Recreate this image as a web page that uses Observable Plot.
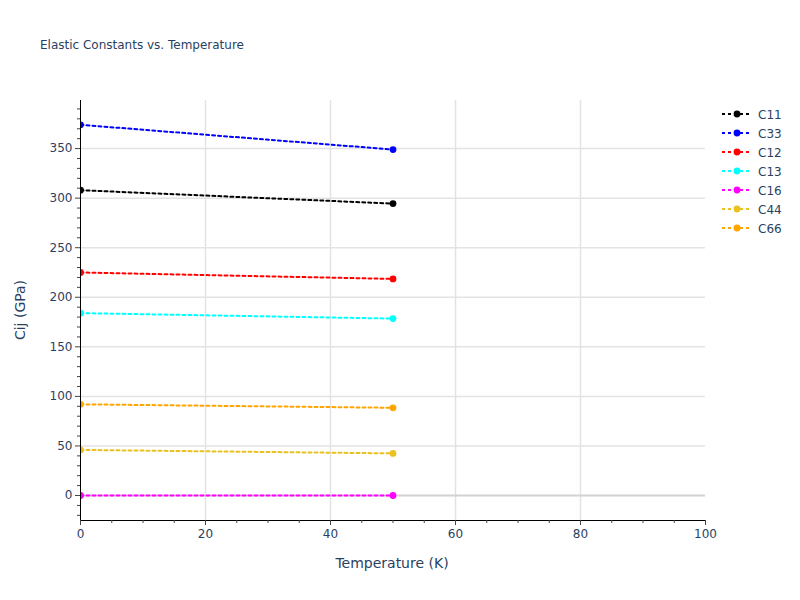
<!DOCTYPE html>
<html>
<head>
<meta charset="utf-8">
<script src="https://cdn.jsdelivr.net/npm/d3@7"></script>
<script src="https://cdn.jsdelivr.net/npm/@observablehq/plot@0.6"></script>
<style>
  body { margin: 0; background: #fff; }
  #wrap { position: relative; width: 800px; height: 600px; font-family: Verdana, "DejaVu Sans", sans-serif; color: #2a3f5f; }
  #wrap svg.plot { position: absolute; left: 0; top: 0; }
  .ov { position: absolute; white-space: nowrap; line-height: 1; }
</style>
</head>
<body>
<div id="wrap"></div>
<script>
// ---- data ----
const temps = [0, 50];
const series = ["C11", "C33", "C12", "C13", "C16", "C44", "C66"];
const colors = ["#000000", "#0000ff", "#ff0000", "#00ffff", "#ff00ff", "#ebc11f", "#ffa500"];
const C11 = [308, 294.5];
const C33 = [374, 349];
const C12 = [225, 218.5];
const C13 = [184, 178.5];
const C16 = [0, 0];
const C44 = [46, 42.5];
const C66 = [92, 88.5];
const xTicks = [0, 20, 40, 60, 80, 100];
const yTicks = [0, 50, 100, 150, 200, 250, 300, 350];
const xDomain = [0, 100];
const yDomain = [-25.2, 398.5];
const titleText = "Elastic Constants vs. Temperature";
const xLabel = "Temperature (K)";
const yLabel = "Cij (GPa)";

const values = {C11, C33, C12, C13, C16, C44, C66};
const rows = [];
series.forEach(s => values[s].forEach((v, i) => rows.push({series: s, T: temps[i], v})));

const xMinor = d3.range(0, 101, 5).filter(d => !xTicks.includes(d));
const yMinor = d3.range(-20, 391, 10).filter(d => !yTicks.includes(d));
const FONT = "Verdana, 'DejaVu Sans', sans-serif";

const chart = Plot.plot({
  width: 800,
  height: 600,
  marginLeft: 80,
  marginRight: 95,
  marginTop: 100,
  marginBottom: 80,
  style: {fontFamily: FONT, fontSize: "12px", background: "transparent"},
  x: {domain: xDomain},
  y: {domain: yDomain},
  color: {domain: series, range: colors},
  marks: [
    Plot.gridX(xTicks.filter(d => d > 0 && d < 100), {stroke: "#e3e3e3", strokeOpacity: 1, strokeWidth: 1.5}),
    Plot.gridY(yTicks.filter(d => d !== 0), {stroke: "#e3e3e3", strokeOpacity: 1, strokeWidth: 1.5}),
    Plot.ruleY([0], {stroke: "#d2d2d2", strokeWidth: 2}),
    Plot.line(rows, {x: "T", y: "v", z: "series", stroke: "series", strokeWidth: 2, strokeDasharray: "3,3", clip: true}),
    Plot.dot(rows, {x: "T", y: "v", fill: "series", r: 3.4, clip: true}),
    Plot.ruleX([xDomain[0]], {stroke: "#000", strokeWidth: 1}),
    Plot.ruleY([yDomain[0]], {stroke: "#000", strokeWidth: 1}),
    Plot.axisX({ticks: xTicks, tickSize: 5, tickPadding: 4, stroke: "#444", fill: "#2a3f5f", label: null, fontSize: 12}),
    Plot.axisX({ticks: xMinor, tickSize: 3, text: null, stroke: "#444", label: null}),
    Plot.axisY({ticks: yTicks, tickSize: 5, tickPadding: 3, stroke: "#444", fill: "#2a3f5f", label: null, fontSize: 12}),
    Plot.axisY({ticks: yMinor, tickSize: 3, text: null, stroke: "#444", label: null})
  ]
});
chart.classList.add("plot");
const wrap = document.getElementById("wrap");
wrap.appendChild(chart);

function ov(text, css) {
  const d = document.createElement("div");
  d.className = "ov";
  d.textContent = text;
  Object.assign(d.style, css);
  wrap.appendChild(d);
  return d;
}
ov(titleText, {left: "40px", top: "39px", fontSize: "12px"});
ov(xLabel, {left: "392px", top: "556px", fontSize: "14px", transform: "translateX(-50%)"});
ov(yLabel, {left: "20px", top: "310px", fontSize: "14px", transform: "translate(-50%, -50%) rotate(-90deg)"});

// legend
const ns = "http://www.w3.org/2000/svg";
const leg = document.createElementNS(ns, "svg");
leg.setAttribute("width", 100);
leg.setAttribute("height", 150);
leg.style.position = "absolute";
leg.style.left = "700px";
leg.style.top = "100px";
series.forEach((s, i) => {
  const y = 14 + i * 19;
  const c = colors[i];
  const l = document.createElementNS(ns, "line");
  l.setAttribute("x1", 22); l.setAttribute("x2", 52);
  l.setAttribute("y1", y); l.setAttribute("y2", y);
  l.setAttribute("stroke", c); l.setAttribute("stroke-width", 2);
  l.setAttribute("stroke-dasharray", "3,3");
  leg.appendChild(l);
  const ci = document.createElementNS(ns, "circle");
  ci.setAttribute("cx", 37); ci.setAttribute("cy", y); ci.setAttribute("r", 3.4);
  ci.setAttribute("fill", c);
  leg.appendChild(ci);
  const t = document.createElementNS(ns, "text");
  t.setAttribute("x", 58); t.setAttribute("y", y + 4.5);
  t.setAttribute("fill", "#2a3f5f");
  t.setAttribute("font-size", 12);
  t.setAttribute("font-family", FONT);
  t.textContent = s;
  leg.appendChild(t);
});
wrap.appendChild(leg);
</script>
</body>
</html>
